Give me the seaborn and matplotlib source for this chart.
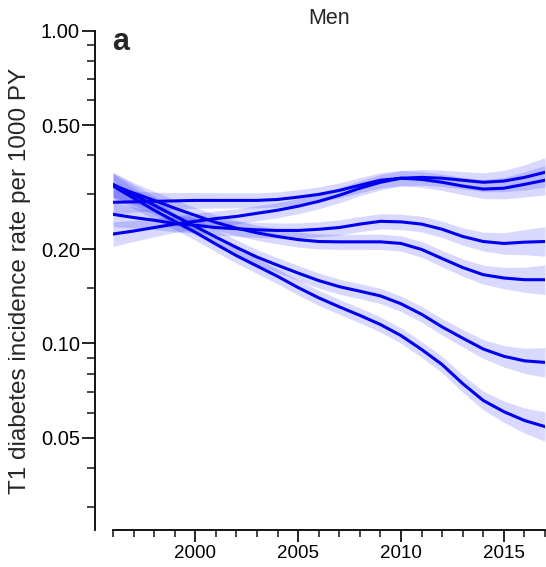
import numpy as np
import pandas as pd
import matplotlib
matplotlib.use("Agg")
import matplotlib.pyplot as plt
import seaborn as sns
from matplotlib.ticker import FixedLocator, FixedFormatter, NullFormatter

# ---------------- data ----------------
years = list(range(1996, 2018))

rate_flat = [0.283, 0.284, 0.285, 0.286, 0.287, 0.287, 0.287, 0.287, 0.289, 0.294, 0.300,
             0.309, 0.321, 0.333, 0.338, 0.335, 0.328, 0.319, 0.312, 0.314, 0.323, 0.333]
rate_rise = [0.224, 0.229, 0.235, 0.241, 0.246, 0.251, 0.255, 0.261, 0.267, 0.275, 0.285,
             0.298, 0.314, 0.328, 0.338, 0.340, 0.338, 0.333, 0.328, 0.331, 0.340, 0.353]
rate_mid = [0.259, 0.253, 0.248, 0.242, 0.239, 0.235, 0.233, 0.231, 0.230, 0.230, 0.232,
            0.235, 0.241, 0.246, 0.245, 0.241, 0.232, 0.220, 0.212, 0.209, 0.211, 0.212]
rate_plateau = [0.321, 0.303, 0.287, 0.271, 0.257, 0.244, 0.234, 0.226, 0.220, 0.215, 0.212,
                0.2115, 0.2115, 0.2115, 0.209, 0.200, 0.187, 0.175, 0.166, 0.162, 0.160, 0.160]
rate_fall1 = [0.323, 0.299, 0.277, 0.256, 0.237, 0.219, 0.203, 0.189, 0.178, 0.168, 0.159,
              0.152, 0.147, 0.142, 0.134, 0.124, 0.113, 0.104, 0.096, 0.091, 0.088, 0.087]
rate_fall2 = [0.319, 0.292, 0.267, 0.246, 0.227, 0.208, 0.191, 0.177, 0.164, 0.151, 0.140,
              0.131, 0.123, 0.115, 0.106, 0.0957, 0.0856, 0.0744, 0.0657, 0.0605, 0.0567, 0.0542]

series = {
    "s1": rate_flat,
    "s2": rate_rise,
    "s3": rate_mid,
    "s4": rate_plateau,
    "s5": rate_fall1,
    "s6": rate_fall2,
}

# ratio of the upper 95% CI limit to the estimate, per year
ci_ratio = [1.095, 1.080, 1.070, 1.063, 1.060, 1.058, 1.057, 1.057, 1.057, 1.057, 1.057,
            1.057, 1.057, 1.058, 1.058, 1.060, 1.062, 1.066, 1.072, 1.082, 1.097, 1.115]

y_major = [0.05, 0.10, 0.20, 0.50, 1.00]
y_major_labels = ["0.05", "0.10", "0.20", "0.50", "1.00"]
y_minor = [0.03, 0.04, 0.06, 0.07, 0.08, 0.09, 0.15, 0.3, 0.4, 0.6, 0.7, 0.8, 0.9]
x_major = [2000, 2005, 2010, 2015]

# ---------------- figure ----------------
sns.set_theme(style="ticks")
plt.rcParams["font.family"] = ["Liberation Sans", "DejaVu Sans"]

W, H = 546, 567
fig = plt.figure(figsize=(W / 100, H / 100), dpi=100)
ax = fig.add_axes([113 / W, 1 - 530 / H, 432 / W, 499 / H])

df = pd.concat(
    [pd.DataFrame({"year": years, "rate": vals, "series": name}) for name, vals in series.items()],
    ignore_index=True,
)
ratio = np.array(ci_ratio)
for name, vals in series.items():
    v = np.array(vals)
    ax.fill_between(years, v / ratio, v * ratio, color="blue", alpha=0.15, linewidth=0, zorder=1)

sns.lineplot(data=df, x="year", y="rate", hue="series", palette=["#0000ee"] * len(series),
             legend=False, linewidth=2.2, errorbar=None, ax=ax, zorder=3)

ax.set_yscale("log")
ax.set_ylim(0.0253, 1.0)
ax.set_xlim(1996, 2017)

ax.yaxis.set_major_locator(FixedLocator(y_major))
ax.yaxis.set_major_formatter(FixedFormatter(y_major_labels))
ax.yaxis.set_minor_locator(FixedLocator(y_minor))
ax.yaxis.set_minor_formatter(NullFormatter())
ax.xaxis.set_major_locator(FixedLocator(x_major))
ax.xaxis.set_minor_locator(FixedLocator(years))

ax.set_xlabel("")
ax.set_ylabel("T1 diabetes incidence rate per 1000 PY", fontsize=17.5)
ax.yaxis.set_label_coords(-0.19, 0.5)

for s in ["top", "right"]:
    ax.spines[s].set_visible(False)
ax.spines["left"].set_position(("outward", 13))
for s in ["left", "bottom"]:
    ax.spines[s].set_linewidth(1.3)
    ax.spines[s].set_color("black")

ax.tick_params(axis="y", which="major", direction="out", length=9.4, width=1.2, pad=1.5,
               labelsize=14.5, colors="black")
ax.tick_params(axis="y", which="minor", direction="out", length=5.8, width=1.2)
ax.tick_params(axis="x", which="major", direction="out", length=8.6, width=1.2, pad=2.0,
               labelsize=13.5, colors="black")
ax.tick_params(axis="x", which="minor", direction="out", length=5.0, width=1.2)

ax.set_title("Men", fontsize=15.5, pad=5)
fig.text(112 / W, 1 - 50 / H, "a", fontsize=22, fontweight="bold", ha="left", va="baseline")

fig.savefig("out.png", dpi=100)
